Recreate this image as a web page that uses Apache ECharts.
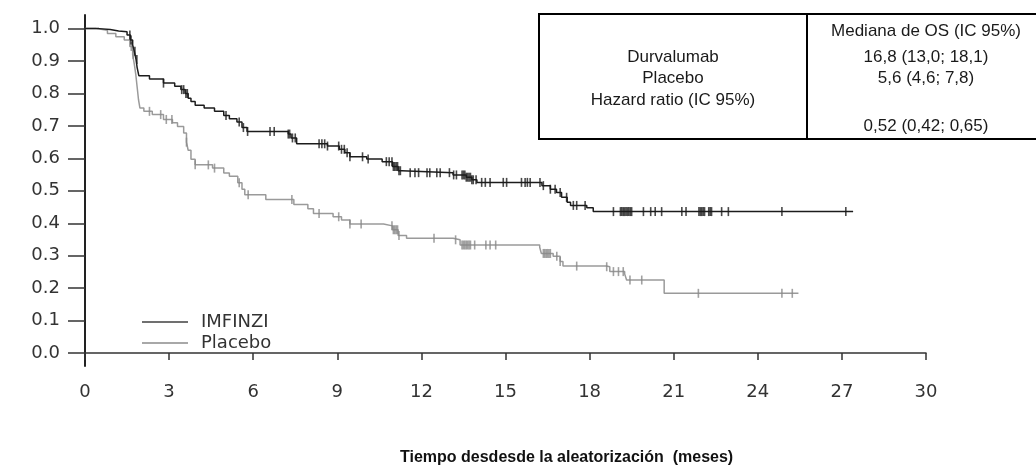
<!DOCTYPE html>
<html>
<head>
<meta charset="utf-8">
<script src="https://cdn.jsdelivr.net/npm/echarts@6/dist/echarts.min.js"></script>
<style>
  html, body { margin: 0; padding: 0; background: #fff; }
  #chart { width: 1036px; height: 466px; }
</style>
</head>
<body>
<div id="chart"></div>
<script>
// Kaplan-Meier steps: [months, survival]
const imfinziSteps = [
  [0, 1.0], [0.5, 0.997], [0.9, 0.993], [1.2, 0.99], [1.5, 0.98], [1.62, 0.965],
  [1.7, 0.95], [1.76, 0.93], [1.82, 0.905], [1.86, 0.88], [1.92, 0.855],
  [2.3, 0.845], [2.8, 0.832], [3.2, 0.822], [3.42, 0.812], [3.57, 0.8],
  [3.68, 0.785], [3.78, 0.775], [3.93, 0.764], [4.25, 0.755], [4.62, 0.745],
  [4.95, 0.732], [5.15, 0.722], [5.42, 0.712], [5.6, 0.695], [5.78, 0.683],
  [7.25, 0.675], [7.35, 0.663], [7.55, 0.645], [8.65, 0.638], [9.07, 0.628],
  [9.27, 0.617], [9.45, 0.605], [10.05, 0.598], [10.6, 0.59], [10.97, 0.575],
  [11.17, 0.562], [11.3, 0.556], [13.13, 0.549], [13.6, 0.542], [13.8, 0.534],
  [13.98, 0.526], [16.3, 0.516], [16.6, 0.505], [16.82, 0.495], [17.0, 0.48],
  [17.2, 0.465], [17.32, 0.455], [17.9, 0.448], [18.13, 0.436], [27.4, 0.436]
]
const placeboSteps = [
  [0, 1.0], [0.4, 0.995], [0.8, 0.985], [1.1, 0.975], [1.4, 0.965], [1.6, 0.945],
  [1.7, 0.92], [1.76, 0.89], [1.81, 0.86], [1.86, 0.82], [1.91, 0.78],
  [1.96, 0.755], [2.1, 0.745], [2.4, 0.735], [2.8, 0.72], [3.12, 0.71],
  [3.3, 0.698], [3.52, 0.678], [3.62, 0.65], [3.68, 0.625], [3.78, 0.597],
  [3.93, 0.58], [4.55, 0.57], [4.95, 0.555], [5.15, 0.545], [5.45, 0.525],
  [5.6, 0.505], [5.7, 0.488], [6.45, 0.473], [7.45, 0.458], [7.95, 0.445],
  [8.15, 0.43], [8.85, 0.42], [9.15, 0.41], [9.45, 0.398], [10.65, 0.392],
  [10.97, 0.38], [11.17, 0.362], [11.47, 0.354], [13.13, 0.349], [13.38, 0.333],
  [16.22, 0.326], [16.28, 0.307], [16.7, 0.298], [16.95, 0.282], [17.05, 0.268],
  [18.6, 0.266], [18.72, 0.251], [19.25, 0.244], [19.32, 0.225], [20.66, 0.184],
  [25.45, 0.184]
]

// censored observations (months)
const imfinziCensor = [
  1.6, 1.64, 1.78, 1.85, 2.8, 3.45, 3.52, 3.6, 3.65, 5.03, 5.5, 5.65, 5.8, 6.6, 6.75,
  7.25, 7.3, 7.4, 7.5, 8.35, 8.45, 8.55, 8.65, 9.05, 9.15, 9.25, 9.35, 9.45, 9.9, 10.1,
  10.75, 10.85, 10.95, 11.0, 11.05, 11.1, 11.15, 11.2, 11.25, 11.6, 11.77, 11.9, 12.2,
  12.3, 12.55, 12.67, 13.0, 13.15, 13.25, 13.45, 13.5, 13.55, 13.6, 13.65, 13.7, 13.75,
  13.8, 13.85, 13.95, 14.15, 14.28, 14.45, 14.92, 15.04, 15.57, 15.7, 15.78, 15.88,
  16.23, 16.35, 16.6, 16.77, 16.95, 17.18, 17.42, 17.54, 17.84, 18.85, 19.1, 19.15,
  19.2, 19.25, 19.3, 19.35, 19.4, 19.45, 19.5, 19.92, 20.18, 20.34, 20.57, 21.29,
  21.44, 21.9, 21.95, 22.0, 22.05, 22.1, 22.25, 22.3, 22.35, 22.71, 22.95, 24.86, 27.14
]
const placeboCensor = [
  1.65, 1.72, 2.3, 2.7, 2.9, 3.1, 3.62, 3.93, 4.4, 4.62, 5.5, 5.82, 7.38, 8.35, 9.05,
  9.45, 9.85, 10.95, 11.0, 11.05, 11.1, 11.15, 11.2, 12.45, 13.22, 13.45, 13.5, 13.55,
  13.6, 13.65, 13.7, 13.75, 13.9, 14.3, 14.45, 14.65, 16.35, 16.4, 16.45, 16.5, 16.55,
  16.6, 16.83, 16.95, 17.54, 18.61, 18.85, 19.03, 19.2, 19.44, 19.86, 21.88, 24.86, 25.23
]

const xTicks = [0, 3, 6, 9, 12, 15, 18, 21, 24, 27, 30]
const yTicks = [0, 0.1, 0.2, 0.3, 0.4, 0.5, 0.6, 0.7, 0.8, 0.9, 1.0]

const tableHeader = 'Mediana de OS (IC 95%)'
const tableLeft = ['Durvalumab', 'Placebo', 'Hazard ratio (IC 95%)']
const tableRight = ['16,8 (13,0; 18,1)', '5,6 (4,6; 7,8)', '', '0,52 (0,42; 0,65)']

// survival value at time t (last step at or before t)
function survAt(steps, t) {
  let s = steps[0][1]
  for (const p of steps) {
    if (p[0] <= t) s = p[1]
    else break
  }
  return s
}

const chart = echarts.init(document.getElementById('chart'))

const labelFont = { fontFamily: 'DejaVu Sans', fontSize: 18, color: '#333' }
const tableFont = { fontFamily: 'Liberation Sans', fontSize: 17, fill: '#1a1a1a' }

const option = {
  animation: false,
  title: {
    text: 'Tiempo desdesde la aleatorización  (meses)',
    left: 400,
    top: 450,
    padding: 0,
    textStyle: { fontFamily: 'Liberation Sans', fontSize: 16, fontWeight: 'bold', color: '#111' }
  },
  legend: {
    orient: 'vertical',
    left: 137,
    top: 308,
    itemWidth: 46,
    itemHeight: 2,
    itemGap: 3,
    icon: 'rect',
    textStyle: { ...labelFont, padding: [0, 0, 0, 8], lineHeight: 18 },
    data: [
      { name: 'IMFINZI', itemStyle: { color: '#707070' } },
      { name: 'Placebo', itemStyle: { color: '#a8a8a8' } }
    ]
  },
  grid: { left: 85, right: 110, top: 15, bottom: 100 },
  xAxis: {
    type: 'value',
    min: 0,
    max: 30,
    interval: 3,
    axisLine: { lineStyle: { color: '#333', width: 1.5 } },
    axisTick: { length: 7, lineStyle: { color: '#333', width: 1.5 } },
    axisLabel: { ...labelFont, margin: 17, customValues: xTicks },
    splitLine: { show: false }
  },
  yAxis: {
    type: 'value',
    min: -0.04,
    max: 1.042,
    axisLine: { show: true, lineStyle: { color: '#222', width: 2 } },
    axisTick: { show: true, length: 17, customValues: yTicks, lineStyle: { color: '#333', width: 1.5 } },
    axisLabel: { ...labelFont, margin: 25, customValues: yTicks, formatter: v => v.toFixed(1) },
    splitLine: { show: false }
  },
  series: [
    {
      name: 'Placebo',
      type: 'line',
      step: 'end',
      symbol: 'none',
      data: placeboSteps,
      lineStyle: { color: '#9a9a9a', width: 1.5 },
      itemStyle: { color: '#9a9a9a' },
      z: 2
    },
    {
      name: 'Placebo censurado',
      type: 'scatter',
      symbol: 'rect',
      symbolSize: [1.6, 9],
      data: placeboCensor.map(t => [t, survAt(placeboSteps, t)]),
      itemStyle: { color: '#8a8a8a' },
      z: 3
    },
    {
      name: 'IMFINZI',
      type: 'line',
      step: 'end',
      symbol: 'none',
      data: imfinziSteps,
      lineStyle: { color: '#1c1c1c', width: 1.5 },
      itemStyle: { color: '#1c1c1c' },
      z: 4
    },
    {
      name: 'IMFINZI censurado',
      type: 'scatter',
      symbol: 'rect',
      symbolSize: [1.6, 9],
      data: imfinziCensor.map(t => [t, survAt(imfinziSteps, t)]),
      itemStyle: { color: '#1c1c1c' },
      z: 5
    }
  ],
  graphic: [
    {
      type: 'rect',
      shape: { x: 539, y: 14, width: 520, height: 125 },
      style: { fill: '#fff', stroke: '#000', lineWidth: 2 },
      z: 10
    },
    {
      type: 'line',
      shape: { x1: 807, y1: 14, x2: 807, y2: 139 },
      style: { stroke: '#000', lineWidth: 2 },
      z: 11
    },
    {
      type: 'text',
      x: 926, y: 31,
      style: { ...tableFont, text: tableHeader, align: 'center', verticalAlign: 'middle' },
      z: 11
    },
    ...tableRight.map((t, i) => ({
      type: 'text',
      x: 926, y: [57, 78, 100, 126][i],
      style: { ...tableFont, text: t, align: 'center', verticalAlign: 'middle' },
      z: 11
    })),
    ...tableLeft.map((t, i) => ({
      type: 'text',
      x: 673, y: [57, 78, 100][i],
      style: { ...tableFont, text: t, align: 'center', verticalAlign: 'middle' },
      z: 11
    }))
  ]
}

chart.setOption(option)
</script>
</body>
</html>
